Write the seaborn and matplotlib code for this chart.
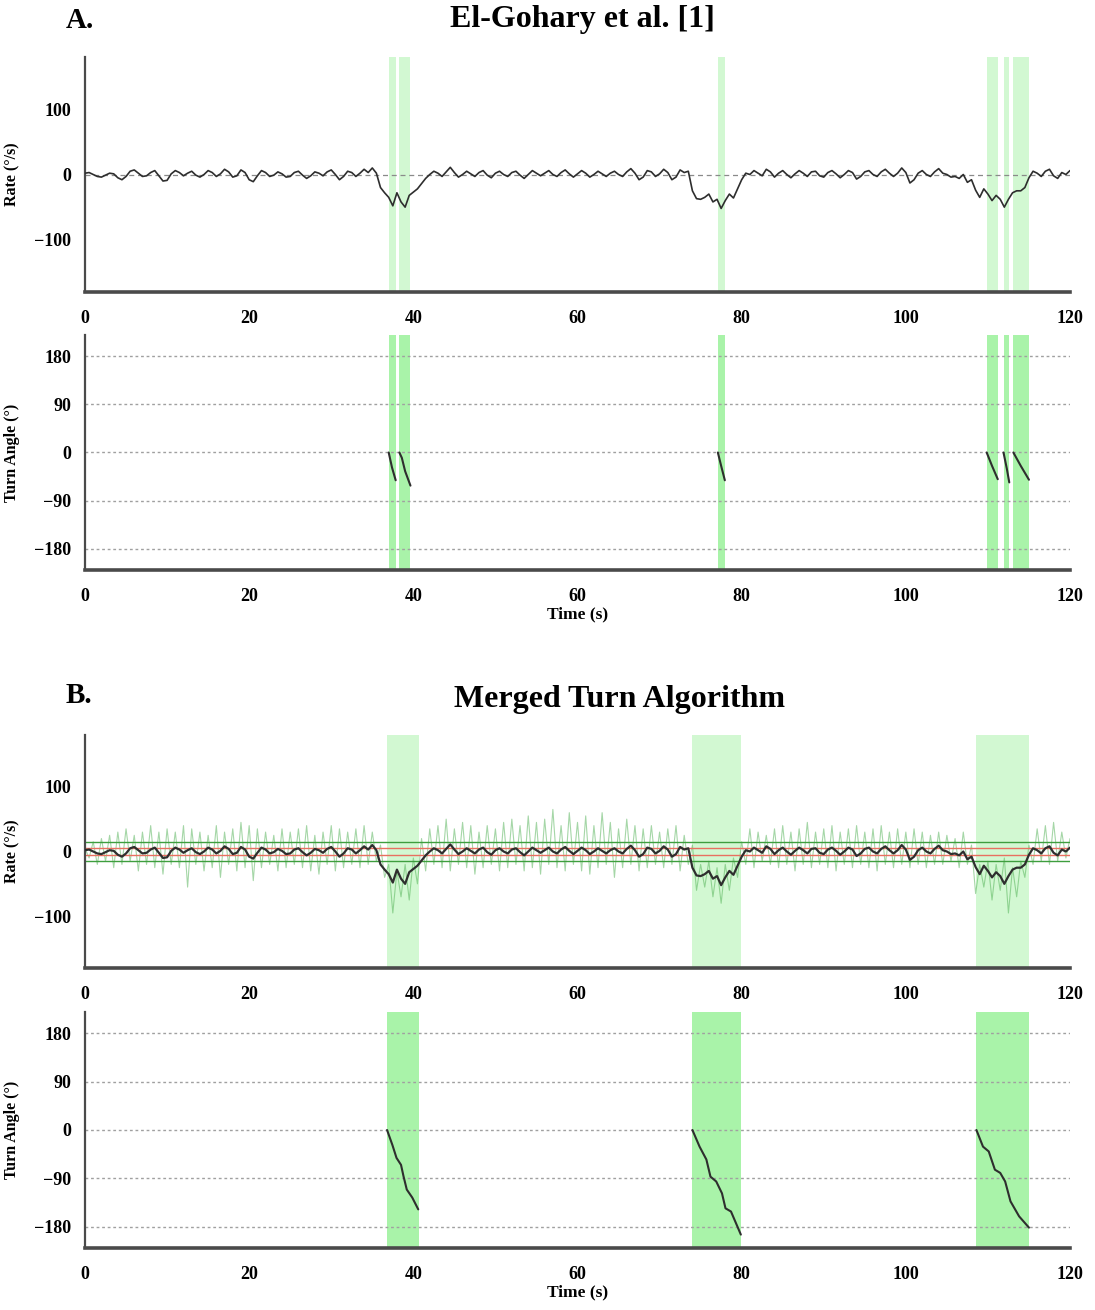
import numpy as np
import pandas as pd
import matplotlib
matplotlib.use("Agg")
import matplotlib.pyplot as plt
import seaborn as sns

# ---------------------------------------------------------------- data
SAMPLE_DT = 0.5  # seconds between samples of the rate traces

# Filtered angular rate (deg/s), 0 .. 120 s
rate_filtered = [
    2, 3, 0, -3, -4, -1, 2, 1, -5, -8, -3, 5, 7, 2, -3, -2, 3, 6, -2, -10,
    -9, 1, 6, 3, -2, 2, 5, -1, -4, 0, 6, 3, -3, 1, 8, 4, -4, -2, 7, 3,
    -8, -11, -2, 6, 3, -3, -1, 4, 1, -4, -3, 3, 5, -1, -6, -2, 4, 2, -2, 4,
    7, 0, -8, -3, 5, 3, -3, 2, 8, 3, 10, 2, -20, -28, -35, -48, -28, -42, -50, -32,
    -27, -22, -14, -6, 0, 5, 2, -3, 4, 11, 3, -4, 0, 5, 1, -3, 3, 6, -1, -5,
    2, 5, 0, -3, 3, 5, -1, -6, 0, 6, 2, -2, 2, 6, 0, -3, 3, 7, 1, -4,
    1, 6, 2, -4, 0, 5, 1, -3, 2, 5, 0, -3, 4, 9, 2, -8, -4, 6, 4, -3,
    1, 8, 3, -8, -4, 7, 3, 5, -25, -37, -38, -35, -30, -42, -38, -52, -40, -30, -36, -22,
    -8, 2, 0, 6, 2, -2, 8, 4, -4, 2, 6, 0, -5, 1, 6, 2, -3, 4, 5, -2,
    -4, 3, 6, 1, -5, 0, 6, 3, -7, -3, 4, 6, 0, -3, 4, 8, 2, -3, 2, 10,
    3, -13, -8, 2, 6, 0, -3, 4, 9, 2, 0, -4, -3, -6, 0, -12, -8, -24, -35, -22,
    -30, -40, -32, -38, -50, -38, -28, -25, -25, -20, -5, 5, 2, -3, 5, 8, -2, -6, 3, 0,
    6,
]

# Raw gyroscope rate (deg/s), 0 .. 120 s
rate_raw = [
    5, -10, 15, -20, 20, -15, 25, -25, 30, -20, 35, -15, 25, -30, 30, -20, 40, -25, 30, -35,
    35, -20, 30, -25, 40, -55, 35, -20, 30, -30, 25, -25, 40, -40, 30, -20, 35, -30, 45, -25,
    40, -45, 35, -25, 30, -20, 25, -30, 35, -25, 30, -20, 35, -25, 40, -30, 25, -35, 30, -20,
    40, -30, 35, -25, 30, -20, 35, -25, 40, -20, 30, -15, 10, -40, -20, -95, -30, -70, -20, -75,
    -10, -50, 20, -30, 35, -20, 40, -25, 50, -30, 35, -20, 45, -25, 40, -35, 30, -25, 40, -20,
    35, -30, 45, -25, 50, -20, 40, -30, 55, -25, 45, -35, 50, -20, 65, -25, 40, -30, 60, -20,
    45, -30, 55, -35, 40, -25, 60, -20, 45, -40, 35, -25, 50, -20, 40, -30, 35, -25, 40, -20,
    30, -25, 35, -20, 40, -30, 25, -20, 10, -60, -20, -55, -15, -70, -25, -80, -20, -60, -10, -40,
    15, -20, 35, -25, 30, -15, 25, -20, 35, -25, 40, -20, 30, -30, 35, -20, 45, -25, 30, -20,
    35, -25, 40, -30, 30, -20, 35, -25, 40, -20, 30, -25, 35, -30, 40, -20, 30, -25, 35, -20,
    30, -25, 35, -20, 30, -25, 25, -20, 30, -20, 25, -15, 20, -25, 30, -20, 10, -65, -20, -55,
    -15, -75, -20, -60, -10, -95, -25, -70, -15, -40, 10, -20, 35, -15, 40, -20, 45, -15, 30, -10,
    20,
]

# Detection thresholds of the merged algorithm (deg/s)
green_threshold = 15
red_threshold = 5

# Turns detected by El-Gohary et al. (start s, end s)
gohary_turn_start = [37.0, 38.3, 77.1, 109.85, 111.9, 113.1]
gohary_turn_end = [37.85, 39.65, 77.95, 111.2, 112.6, 115.0]

# Integrated turn angle per detected turn (time s, angle deg)
gohary_angle_t = [
    [37.0, 37.4, 37.85],
    [38.3, 38.6, 39.0, 39.65],
    [77.1, 77.5, 77.95],
    [109.85, 110.5, 111.2],
    [111.9, 112.3, 112.6],
    [113.1, 114.0, 115.0],
]
gohary_angle_v = [
    [0, -28, -52],
    [0, -10, -35, -62],
    [0, -25, -52],
    [0, -25, -50],
    [0, -30, -56],
    [0, -25, -51],
]

# Turns detected by the merged algorithm
merged_turn_start = [36.8, 74.0, 108.6]
merged_turn_end = [40.7, 79.9, 115.0]

merged_angle_t = [
    [36.8, 37.45, 37.95, 38.5, 38.8, 39.2, 39.87, 40.6],
    [74.0, 74.87, 75.7, 76.2, 76.9, 77.6, 78.03, 78.7, 79.9],
    [108.6, 109.4, 110.1, 110.85, 111.5, 112.1, 112.75, 113.8, 115.0],
]
merged_angle_v = [
    [0, -28, -52, -65, -86, -111, -126, -148],
    [0, -31, -55, -87, -96, -118, -146, -152, -195],
    [0, -31, -40, -74, -80, -96, -133, -161, -182],
]

x_ticks = [0, 20, 40, 60, 80, 100, 120]
rate_ticks = [-100, 0, 100]
angle_ticks = [-180, -90, 0, 90, 180]

# ---------------------------------------------------------------- frames
n = min(len(rate_filtered), len(rate_raw))
time = np.arange(n) * SAMPLE_DT
rate_df = pd.DataFrame({
    "time": time,
    "filtered": rate_filtered[:n],
    "raw": rate_raw[:n],
})


def angle_frame(ts, vs):
    rows = []
    for k, (tt, vv) in enumerate(zip(ts, vs)):
        for a, b in zip(tt, vv):
            rows.append({"turn": k, "time": a, "angle": b})
    return pd.DataFrame(rows)


gohary_df = angle_frame(gohary_angle_t, gohary_angle_v)
merged_df = angle_frame(merged_angle_t, merged_angle_v)

# ---------------------------------------------------------------- style
sns.set_theme(style="white")
plt.rcParams["font.family"] = ["Liberation Serif", "DejaVu Serif"]
plt.rcParams["font.weight"] = "bold"
plt.rcParams["axes.labelweight"] = "bold"
plt.rcParams["text.color"] = "black"
plt.rcParams["axes.labelcolor"] = "black"

SPINE = "#4a4a4a"
LIGHT_SPAN = "#d2f8d2"
DARK_SPAN = "#a9f3a9"
LINE = "#2e2e2e"

fig = plt.figure(figsize=(10.95, 13.10), dpi=100)
L, W = 85 / 1095, 985 / 1095


def make_ax(top_px, bottom_px):
    return fig.add_axes([L, 1 - bottom_px / 1310, W, (bottom_px - top_px) / 1310])


ax_a_rate = make_ax(57, 292)
ax_a_ang = make_ax(335, 570)
ax_b_rate = make_ax(735, 968)
ax_b_ang = make_ax(1012, 1248)


def style_axis(ax, yticks, ylim, ylabel, xlabel=None):
    ax.set_xlim(0, 120)
    ax.set_ylim(*ylim)
    ax.set_xticks(x_ticks)
    ax.set_yticks(yticks)
    ax.set_xticklabels([str(v) for v in x_ticks], fontsize=13, fontweight="bold")
    ax.set_yticklabels(["\u2212" + str(-v) if v < 0 else str(v) for v in yticks],
                       fontsize=13, fontweight="bold")
    for s in ["top", "right"]:
        ax.spines[s].set_visible(False)
    ax.spines["left"].set_color(SPINE)
    ax.spines["left"].set_linewidth(1.6)
    ax.spines["bottom"].set_color(SPINE)
    ax.spines["bottom"].set_linewidth(2.6)
    ax.tick_params(axis="y", direction="out", length=6, width=2.2, color=SPINE,
                   labelcolor="black", pad=4)
    ax.tick_params(axis="x", direction="out", length=5, width=1.4, color=SPINE,
                   labelcolor="black", pad=8)
    ax.set_ylabel(ylabel, fontsize=11.5, fontweight="bold", labelpad=6)
    ax.yaxis.set_label_coords(-0.066, 0.5)
    if xlabel:
        ax.set_xlabel(xlabel, fontsize=12.5, fontweight="bold", labelpad=1)
    else:
        ax.set_xlabel("")


def angle_grid(ax):
    for v in angle_ticks:
        ax.axhline(v, color="#a0a0a0", lw=1.0, ls=(0, (2, 2)), zorder=1)


# ---------------------------------------------------------------- panel A
for s, e in zip(gohary_turn_start, gohary_turn_end):
    ax_a_rate.axvspan(s, e, color=LIGHT_SPAN, lw=0, zorder=0)
    ax_a_ang.axvspan(s, e, color=DARK_SPAN, lw=0, zorder=0)

ax_a_rate.axhline(0, color="#8a8a8a", lw=0.9, ls=(0, (4, 3)), zorder=1)
sns.lineplot(data=rate_df, x="time", y="filtered", ax=ax_a_rate,
             color=LINE, lw=1.2, zorder=3)
style_axis(ax_a_rate, rate_ticks, (-180, 180), "Rate (\u00b0/s)")

angle_grid(ax_a_ang)
sns.lineplot(data=gohary_df, x="time", y="angle", units="turn", estimator=None,
             ax=ax_a_ang, color=LINE, lw=1.5, zorder=3)
style_axis(ax_a_ang, angle_ticks, (-220, 220), "Turn Angle (\u00b0)", "Time (s)")

# ---------------------------------------------------------------- panel B
for s, e in zip(merged_turn_start, merged_turn_end):
    ax_b_rate.axvspan(s, e, color=LIGHT_SPAN, lw=0, zorder=0)
    ax_b_ang.axvspan(s, e, color=DARK_SPAN, lw=0, zorder=0)

sns.lineplot(data=rate_df, x="time", y="raw", ax=ax_b_rate,
             color="#4caf50", lw=0.8, alpha=0.5, zorder=2)
for v in (green_threshold, -green_threshold):
    ax_b_rate.axhline(v, color="#3e9e3e", lw=1.0, zorder=2.5)
for v in (red_threshold, -red_threshold):
    ax_b_rate.axhline(v, color="#e87060", lw=1.0, zorder=2.5)
sns.lineplot(data=rate_df, x="time", y="filtered", ax=ax_b_rate,
             color=LINE, lw=1.6, zorder=3)
style_axis(ax_b_rate, rate_ticks, (-180, 180), "Rate (\u00b0/s)")

angle_grid(ax_b_ang)
sns.lineplot(data=merged_df, x="time", y="angle", units="turn", estimator=None,
             ax=ax_b_ang, color=LINE, lw=1.5, zorder=3)
style_axis(ax_b_ang, angle_ticks, (-220, 220), "Turn Angle (\u00b0)", "Time (s)")

# ---------------------------------------------------------------- titles
fig.text(66 / 1095, 1 - 20 / 1310, "A.", fontsize=21, fontweight="bold",
         ha="left", va="center")
fig.text(582 / 1095, 1 - 20 / 1310, "El-Gohary et al. [1]", fontsize=23,
         fontweight="bold", ha="center", va="center")
fig.text(66 / 1095, 1 - 695 / 1310, "B.", fontsize=21, fontweight="bold",
         ha="left", va="center")
fig.text(620 / 1095, 1 - 700 / 1310, "Merged Turn Algorithm", fontsize=23,
         fontweight="bold", ha="center", va="center")

fig.savefig("out.png", dpi=100, facecolor="white")
